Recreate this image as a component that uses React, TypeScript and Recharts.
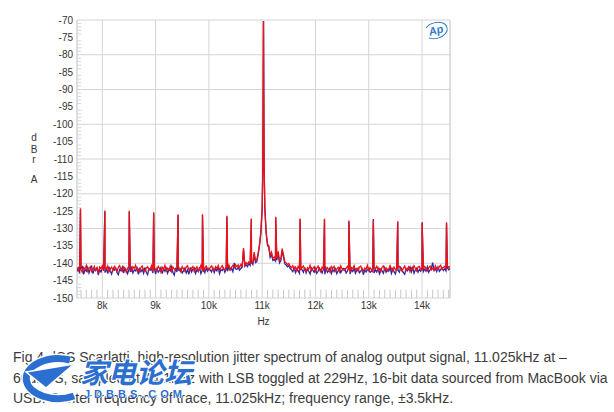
import { LineChart, Line, XAxis, YAxis, CartesianGrid, ReferenceLine, Label } from "recharts";

// trace sampled every 25 Hz from 7525 Hz (11.025kHz centre, +/-3.5kHz)
const traceStart = 7525;
const traceStep = 25;

const redTrace = [
  -141.3, -142.1, -140.8, -141.9, -142.6, -141.2, -141.7, -140.6, -142.3, -141.5, -141.0, -142.4, -141.8, -140.9, -142.0, -141.4, -142.7, -141.1, -141.6, -140.7,
  -142.2, -141.3, -141.9, -140.8, -142.5, -141.6, -141.1, -142.0, -140.9, -141.7, -142.4, -141.2, -140.7, -141.8, -142.3, -141.0, -141.6, -142.6, -141.4, -140.9,
  -141.8, -142.2, -141.0, -141.5, -140.6, -142.1, -141.7, -142.5, -141.2, -140.8, -141.9, -142.3, -141.4, -141.0, -142.0, -141.6, -140.7, -142.4, -141.3, -141.8,
  -142.1, -140.9, -141.5, -142.6, -141.2, -141.8, -140.6, -142.2, -141.4, -141.9, -140.8, -142.4, -141.1, -141.7, -142.0, -141.3, -140.7, -141.8, -142.5, -141.0,
  -141.6, -142.3, -141.1, -140.7, -141.9, -142.1, -141.4, -140.9, -142.4, -141.5, -141.0, -142.2, -141.7, -140.6, -141.8, -142.5, -141.3, -140.8, -141.6, -142.0,
  -141.2, -140.8, -141.7, -142.1, -141.0, -141.5, -140.6, -141.9, -141.3, -140.7, -141.6, -142.0, -140.9, -141.4, -140.5, -141.8, -141.1, -140.6, -141.3, -140.4,
  -141.0, -140.5, -141.2, -140.3, -140.9, -135.6, -140.6, -139.8, -140.2, -139.6, -140.1, -139.4, -139.8, -136.8, -139.2, -138.9, -137.0, -134.5, -131.0, -124.0,
  -70.3,
  -124.0, -131.0, -134.5, -135.0, -137.8, -136.8, -138.6, -138.2, -138.8, -138.5, -136.6, -139.2, -138.7, -135.8, -137.5, -139.6, -139.9, -140.4, -140.1, -140.8,
  -141.3, -140.7, -141.8, -141.1, -142.2, -140.9, -141.6, -142.0, -141.2, -140.8, -141.9, -142.4, -141.3, -141.7, -140.6, -142.1, -141.5, -141.0, -142.3, -141.4,
  -140.8, -141.9, -142.5, -141.1, -141.6, -140.7, -142.0, -141.3, -141.8, -142.6, -141.0, -141.5, -140.9, -142.2, -141.7, -141.2, -142.4, -140.8, -141.6, -141.9,
  -142.1, -141.4, -140.9, -141.8, -142.7, -141.2, -141.6, -140.7, -142.0, -141.5, -142.3, -141.1, -140.8, -141.9, -142.2, -141.4, -141.7, -140.6, -142.1, -141.3,
  -141.8, -142.4, -141.0, -141.6, -140.9, -142.0, -141.5, -142.5, -141.2, -140.8, -141.9, -141.3, -142.2, -141.7, -140.7, -141.5, -142.3, -141.1, -141.8, -142.0,
  -141.2, -140.9, -141.7, -142.3, -141.4, -140.8, -142.1, -141.6, -141.0, -142.4, -141.3, -141.8, -140.7, -141.5, -142.2, -141.1, -140.9, -141.7, -142.0, -141.4,
  -140.9, -141.6, -142.2, -141.3, -140.8, -141.9, -141.4, -142.1, -140.7, -141.5, -141.8, -141.0, -140.6, -141.7, -141.2, -140.9, -141.5, -140.7, -141.3, -140.8,
];

const blueTrace = [
  -142.4, -141.1, -142.9, -141.5, -141.0, -143.2, -141.8, -142.3, -141.2, -142.8, -141.6, -140.9, -143.0, -141.7, -142.1, -141.3, -143.4, -141.9, -142.5, -141.4,
  -141.2, -142.7, -141.5, -142.9, -141.0, -142.3, -143.1, -141.6, -142.0, -141.3, -142.6, -143.3, -141.8, -142.2, -141.1, -142.8, -141.4, -142.0, -143.0, -141.7,
  -142.5, -141.3, -142.8, -141.9, -142.2, -141.0, -143.2, -141.6, -142.4, -141.8, -142.9, -141.2, -142.6, -143.3, -141.5, -142.0, -141.7, -142.8, -141.4, -143.1,
  -141.5, -142.6, -142.0, -141.2, -143.0, -141.6, -142.3, -141.4, -142.9, -141.8, -142.2, -141.0, -142.7, -143.4, -141.3, -142.5, -141.9, -142.1, -141.5, -142.8,
  -142.2, -141.4, -142.8, -141.9, -143.2, -141.2, -142.5, -141.7, -141.3, -142.9, -141.8, -142.4, -141.1, -143.0, -142.1, -141.6, -142.7, -141.4, -142.3, -141.5,
  -141.9, -142.5, -141.3, -142.7, -141.6, -142.2, -141.2, -143.0, -141.8, -142.1, -141.4, -142.6, -141.7, -142.3, -141.1, -142.0, -141.5, -142.4, -139.9, -141.6,
  -141.8, -141.2, -142.0, -141.5, -141.1, -136.2, -140.9, -140.4, -141.0, -140.1, -140.6, -139.9, -140.4, -137.5, -139.8, -139.5, -137.6, -135.0, -131.5, -124.3,
  -70.3,
  -124.3, -131.5, -134.8, -135.5, -138.3, -137.4, -139.2, -138.9, -139.4, -139.1, -137.2, -139.9, -139.3, -136.5, -138.2, -140.2, -140.5, -141.0, -140.7, -141.5,
  -141.9, -142.4, -141.3, -142.7, -141.6, -142.2, -142.9, -141.5, -141.9, -142.6, -141.2, -142.8, -141.7, -142.3, -143.1, -141.4, -142.0, -142.6, -141.5, -142.9,
  -142.3, -141.4, -142.0, -142.8, -141.7, -143.2, -141.5, -142.6, -142.1, -141.3, -142.9, -141.8, -142.4, -141.6, -143.0, -142.2, -141.4, -142.7, -142.0, -141.5,
  -141.6, -142.8, -142.2, -141.3, -143.1, -141.9, -142.4, -141.5, -142.9, -142.0, -141.4, -142.7, -142.3, -141.6, -143.3, -141.8, -142.5, -141.9, -141.4, -142.6,
  -142.4, -141.3, -142.8, -141.9, -142.5, -141.4, -143.0, -141.7, -142.2, -142.9, -141.3, -142.6, -141.8, -142.3, -141.2, -142.9, -141.6, -142.4, -143.1, -141.5,
  -142.0, -142.6, -141.2, -141.8, -142.7, -143.2, -141.5, -142.2, -141.7, -141.0, -142.5, -141.3, -142.9, -141.9, -141.4, -142.6, -141.8, -142.3, -141.2, -142.4,
  -141.7, -142.3, -141.0, -142.6, -141.9, -141.4, -139.8, -142.0, -141.6, -142.4, -141.1, -142.3, -141.8, -141.3, -142.1, -141.6, -142.2, -141.4, -141.9, -141.5,
];

// jitter sidebands (odd multiples of 229Hz) and the tip of the main tone
const spikeFreqs = [
  7590, 8048, 8506, 8964, 9422, 9880, 10338, 10796,
  11013, 11037,
  11254, 11712, 12170, 12628, 13086, 13544, 14002, 14460,
];
const redSpikes = [
  -124.2, -124.8, -124.9, -125.3, -125.9, -125.9, -126.3, -127.1,
  -112.0, -112.0,
  -126.6, -127.1, -127.2, -127.7, -127.8, -127.9, -128.1, -128.2,
];
const blueSpikes = [
  -124.5, -125.1, -125.2, -125.6, -126.2, -126.2, -126.6, -127.4,
  -112.3, -112.3,
  -126.9, -127.4, -127.5, -128.0, -127.3, -128.2, -128.4, -128.5,
];

const xTicks = [8000, 9000, 10000, 11000, 12000, 13000, 14000];
const yTicks = [-150, -145, -140, -135, -130, -125, -120, -115, -110, -105, -100, -95, -90, -85, -80, -75, -70];
const xMinor = [
  7600, 7700, 7800, 7900, 8100, 8200, 8300, 8400, 8500, 8600, 8700, 8800, 8900,
  9100, 9200, 9300, 9400, 9500, 9600, 9700, 9800, 9900,
  10100, 10200, 10300, 10400, 10500, 10600, 10700, 10800, 10900,
  11100, 11200, 11300, 11400, 11500, 11600, 11700, 11800, 11900,
  12100, 12200, 12300, 12400, 12500, 12600, 12700, 12800, 12900,
  13100, 13200, 13300, 13400, 13500, 13600, 13700, 13800, 13900,
  14100, 14200, 14300, 14400, 14500,
];
const yMinor = [
  -149, -148, -147, -146, -144, -143, -142, -141, -139, -138, -137, -136, -134, -133, -132, -131,
  -129, -128, -127, -126, -124, -123, -122, -121, -119, -118, -117, -116, -114, -113, -112, -111,
  -109, -108, -107, -106, -104, -103, -102, -101, -99, -98, -97, -96, -94, -93, -92, -91,
  -89, -88, -87, -86, -84, -83, -82, -81, -79, -78, -77, -76, -74, -73, -72, -71,
];

const xMin = 7525;
const xMax = 14525;

const rows = [
  ...redTrace.map((v, i) => ({ f: traceStart + i * traceStep, red: v, blue: blueTrace[i] })),
  ...spikeFreqs.map((f, i) => ({ f, red: redSpikes[i], blue: blueSpikes[i] })),
].sort((a, b) => a.f - b.f);

const font = "Arial, 'Liberation Sans', sans-serif";
const gridColor = "#d4d4d4";
const wmBlue = "#2b6fd0";

const DbraLabel = () => (
  <text textAnchor="middle" fontSize={10} fill="#333" fontFamily={font}>
    <tspan x={34} y={141}>d</tspan>
    <tspan x={34} y={153}>B</tspan>
    <tspan x={34} y={163}>r</tspan>
    <tspan x={34} y={183}>A</tspan>
  </text>
);

export default function App() {
  return (
    <div style={{ position: "absolute", left: 0, top: 0, width: 614, height: 412, background: "#fff", overflow: "hidden" }}>
      <LineChart width={614} height={340} data={rows} margin={{ top: 20, right: 164, bottom: 12, left: 0 }}>
        <CartesianGrid stroke={gridColor} strokeWidth={1} />
        <XAxis
          type="number"
          dataKey="f"
          domain={[xMin, xMax]}
          ticks={xTicks}
          tickFormatter={(v) => `${v / 1000}k`}
          allowDataOverflow
          axisLine={false}
          tickLine={false}
          tickSize={0}
          tickMargin={4}
          height={30}
          tick={{ fontSize: 10, fill: "#333", fontFamily: font }}
        >
          <Label value="Hz" position="insideBottom" offset={3} style={{ fontSize: 10, fill: "#333", fontFamily: font }} />
        </XAxis>
        <YAxis
          type="number"
          domain={[-150, -70]}
          ticks={yTicks}
          allowDataOverflow
          axisLine={false}
          tickLine={false}
          tickSize={0}
          tickMargin={4}
          width={77}
          tick={{ fontSize: 10, fill: "#333", fontFamily: font }}
          label={<DbraLabel />}
        />
        <ReferenceLine x={xMin} stroke={gridColor} />
        <ReferenceLine x={xMax} stroke={gridColor} />
        {xMinor.map((f) => (
          <ReferenceLine key={`xm${f}`} segment={[{ x: f, y: -150 }, { x: f, y: -147.6 }]} stroke="#c8c8c8" />
        ))}
        {yMinor.map((v) => (
          <ReferenceLine key={`ym${v}`} segment={[{ x: xMin, y: v }, { x: xMin + 80, y: v }]} stroke="#d8d8d8" />
        ))}
        <Line type="linear" dataKey="blue" stroke="#2a2aa8" strokeWidth={1.3} dot={false} isAnimationActive={false} />
        <Line type="linear" dataKey="red" stroke="#f01010" strokeWidth={1.3} dot={false} isAnimationActive={false} />
      </LineChart>

      <div
        style={{
          position: "absolute",
          left: 424,
          top: 22,
          width: 22,
          height: 15,
          border: "1.5px solid #2b78c8",
          borderRadius: "50%",
          borderLeftColor: "transparent",
          transform: "rotate(-15deg)",
          color: "#2b78c8",
          fontFamily: font,
          fontStyle: "italic",
          fontWeight: "bold",
          fontSize: 11,
          lineHeight: "15px",
          textAlign: "center",
        }}
      >
        Ap
      </div>

      <div
        style={{
          position: "absolute",
          left: 13,
          top: 347,
          fontFamily: font,
          fontSize: 14,
          lineHeight: "20.5px",
          color: "#3c3c3c",
          whiteSpace: "nowrap",
        }}
      >
        <div>Fig.4 dCS Scarlatti, high-resolution jitter spectrum of analog output signal, 11.025kHz at –</div>
        <div>60dBFS, sampled at 44.1kHz with LSB toggled at 229Hz, 16-bit data sourced from MacBook via</div>
        <div>USB. Center frequency of trace, 11.025kHz; frequency range, ±3.5kHz.</div>
      </div>

      <svg style={{ position: "absolute", left: 0, top: 340 }} width={210} height={72}>
        <path d="M 70 20 A 32 20 0 1 0 74 56" fill="none" stroke="#fff" strokeWidth={10} />
        <path d="M 70 20 A 32 20 0 1 0 74 56" fill="none" stroke={wmBlue} strokeWidth={7} />
        <path d="M 26 32 L 74 24 L 46 48 Z" fill={wmBlue} stroke="#fff" strokeWidth={1.5} />
      </svg>
      <div
        style={{
          position: "absolute",
          left: 80,
          top: 354,
          fontFamily: "'Noto Sans CJK SC', sans-serif",
          fontWeight: "bold",
          fontSize: 28,
          lineHeight: "34px",
          color: wmBlue,
          fontStyle: "italic",
          textShadow: "1px 1px 0 #fff, -1px -1px 0 #fff, 1px -1px 0 #fff, -1px 1px 0 #fff",
          whiteSpace: "nowrap",
        }}
      >
        家电论坛
      </div>
      <div
        style={{
          position: "absolute",
          left: 84,
          top: 388,
          fontFamily: font,
          fontWeight: "bold",
          fontSize: 11,
          letterSpacing: 4,
          color: wmBlue,
          textShadow: "1px 0 0 #fff, -1px 0 0 #fff",
          whiteSpace: "nowrap",
        }}
      >
        JDBBS.COM
      </div>
    </div>
  );
}
